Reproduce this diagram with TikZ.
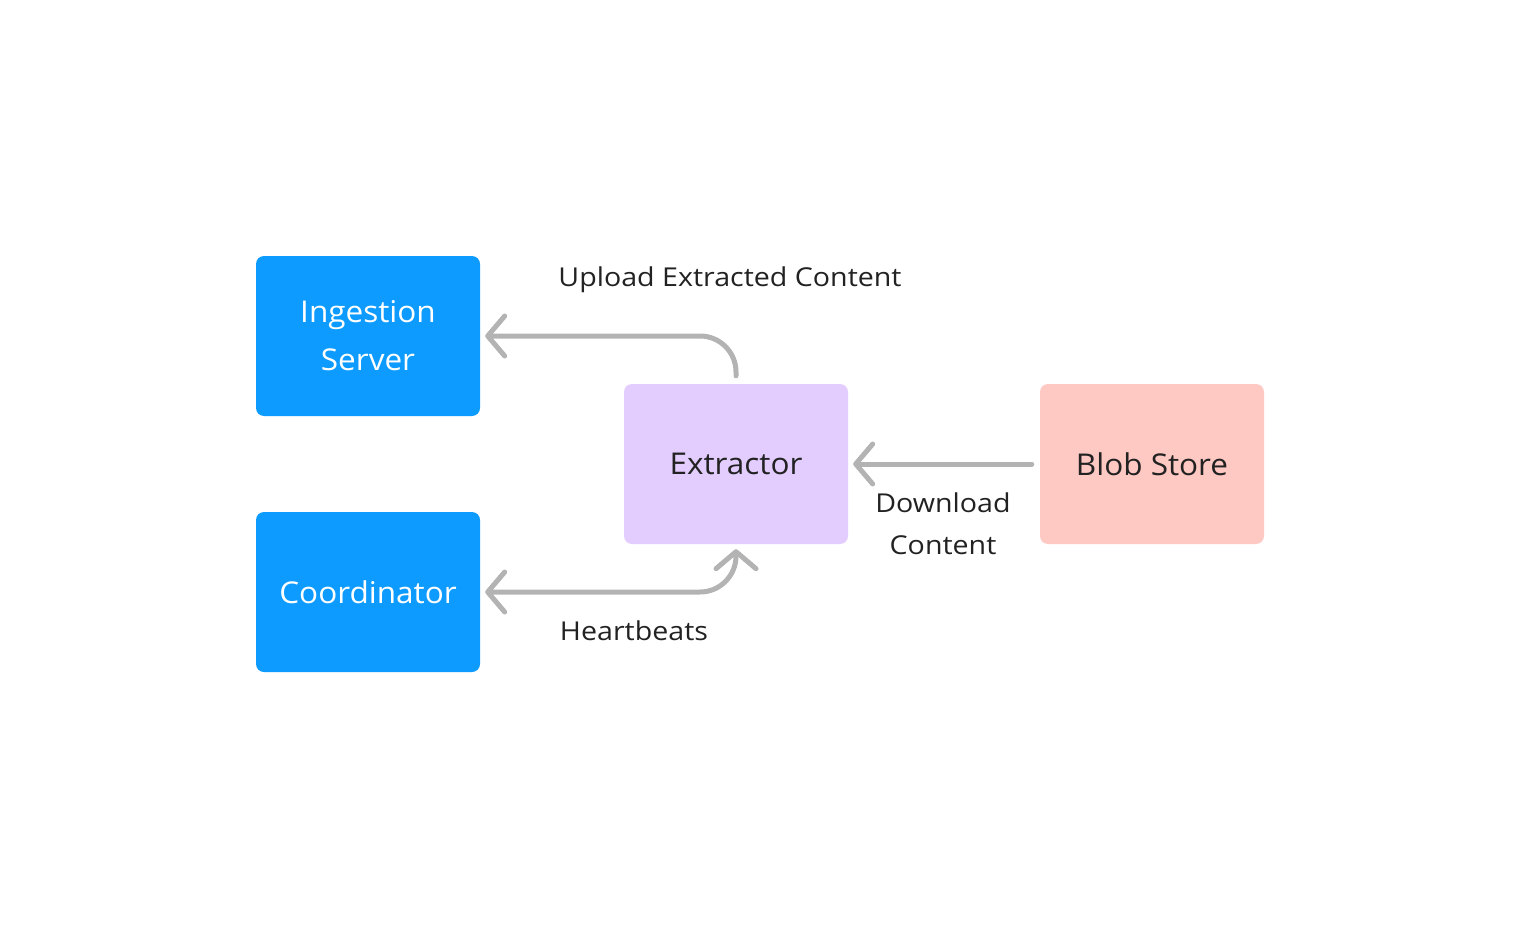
\documentclass[tikz,border=0pt]{standalone}
\usepackage{fontspec}
\setmainfont{Open Sans}
\newfontfamily\lblfont[FakeStretch=1.1]{Open Sans}
\newfontfamily\boxfont[FakeStretch=1.05]{Open Sans}
\usetikzlibrary{arrows.meta}
\definecolor{bluebox}{HTML}{0E9BFF}
\definecolor{lavbox}{HTML}{E3CDFE}
\definecolor{pinkbox}{HTML}{FEC8C3}
\definecolor{arrgray}{HTML}{B3B3B3}
\definecolor{txtdark}{HTML}{222222}
\tikzset{
  box/.style={rounded corners=8pt, minimum width=224pt, minimum height=160pt, inner sep=0pt, align=center, font=\boxfont\fontsize{30}{48}\selectfont},
  bluestyle/.style={box, fill=bluebox, text=white},
  lavstyle/.style={box, fill=lavbox, text=txtdark},
  pinkstyle/.style={box, fill=pinkbox, text=txtdark},
  arr/.style={draw=arrgray, line width=5pt, line cap=round, line join=round,
    -{Straight Barb[length=17pt, width=40pt, round]}},
  lbl/.style={text=txtdark, align=center, inner sep=0pt, font=\lblfont\fontsize{26}{42}\selectfont}
}
\begin{document}
\begin{tikzpicture}[x=1pt, y=-1pt]
\useasboundingbox (0,0) rectangle (1520,928);
\node[bluestyle] (ing) at (368,336) {Ingestion\\Server};
\node[bluestyle] (coord) at (368,592) {Coordinator};
\node[lavstyle] (ext) at (736,464) {Extractor};
\node[pinkstyle] (blob) at (1152,464) {Blob Store};
\draw[arr, rounded corners=36pt] ([yshift=8pt]ext.north) |- ([xshift=5pt]ing.east);
\draw[arr, rounded corners=36pt, {Straight Barb[length=17pt, width=40pt, round]}-{Straight Barb[length=17pt, width=40pt, round]}] ([xshift=5pt]coord.east) -| ([yshift=-5pt]ext.south);
\draw[arr] ([xshift=-8pt]blob.west) -- ([xshift=5pt]ext.east);
\node[lbl] (l1) at (730,280) {Upload Extracted Content};
\node[lbl] (l2) at (943,524) {Download\\Content};
\node[lbl] (l3) at (634,631) {Heartbeats};
\end{tikzpicture}
\end{document}
